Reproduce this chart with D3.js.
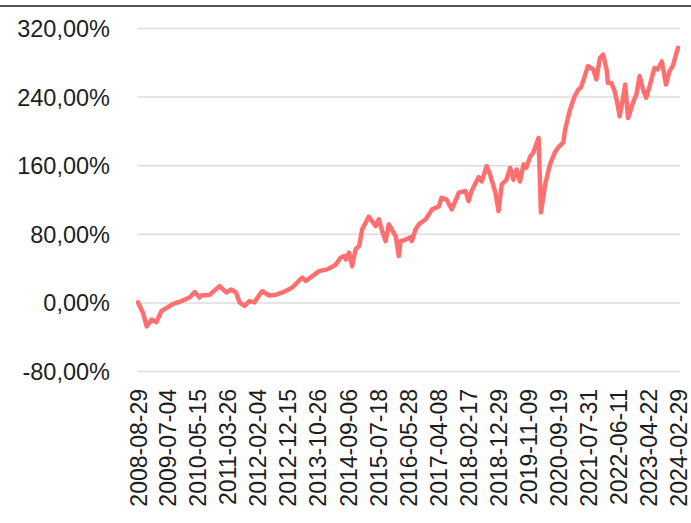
<!DOCTYPE html>
<html>
<head>
<meta charset="utf-8">
<script src="https://cdn.jsdelivr.net/npm/d3@7"></script>
<style>
  body { margin: 0; background: #fff; }
  svg text { font-family: "Helvetica Neue", Helvetica, "Liberation Sans", Arial, sans-serif; fill: #1d1d1f; }
</style>
</head>
<body>
<div id="wrapper"></div>
<script>
const dates = [
  '2008-08-29', '2008-10-20', '2008-11-28', '2009-01-19', '2009-03-09', '2009-05-03', '2009-08-28',
  '2009-11-28', '2010-02-24', '2010-04-15', '2010-06-05', '2010-06-23', '2010-09-20',
  '2011-01-01', '2011-03-13', '2011-05-03', '2011-06-23', '2011-07-30', '2011-09-20',
  '2011-11-10', '2012-01-01', '2012-02-24', '2012-03-24', '2012-06-05', '2012-08-17',
  '2012-10-22', '2013-02-03', '2013-05-17', '2013-06-23', '2013-11-10', '2014-02-03',
  '2014-05-03', '2014-06-23', '2014-07-30', '2014-08-17', '2014-09-20', '2014-10-22',
  '2014-11-28', '2015-01-05', '2015-02-03', '2015-03-13', '2015-04-15', '2015-05-17',
  '2015-06-27', '2015-07-30', '2015-09-02', '2015-10-08', '2015-11-10', '2015-12-13',
  '2016-01-23', '2016-02-24', '2016-03-13', '2016-05-03', '2016-06-27', '2016-07-08',
  '2016-08-17', '2016-09-20', '2016-12-02', '2017-02-07', '2017-04-19', '2017-05-17',
  '2017-07-08', '2017-09-02', '2017-11-14', '2018-01-23', '2018-02-24', '2018-03-28',
  '2018-06-09', '2018-07-12', '2018-09-02', '2018-10-08', '2018-12-02', '2019-01-05',
  '2019-02-07', '2019-03-28', '2019-05-07', '2019-06-09', '2019-07-12', '2019-08-17',
  '2019-09-24', '2019-10-22', '2019-12-02', '2020-01-05', '2020-02-28', '2020-03-24',
  '2020-05-07', '2020-06-27', '2020-08-17', '2020-09-24', '2020-11-14', '2020-12-02',
  '2021-01-23', '2021-03-13', '2021-04-19', '2021-05-17', '2021-06-27', '2021-07-30',
  '2021-09-24', '2021-10-26', '2021-12-02', '2022-01-05', '2022-02-10', '2022-02-24',
  '2022-04-01', '2022-05-07', '2022-06-09', '2022-06-27', '2022-07-30', '2022-08-24',
  '2022-09-24', '2022-11-14', '2022-12-20', '2023-01-23', '2023-02-28', '2023-04-01',
  '2023-05-07', '2023-06-27', '2023-07-30', '2023-09-13', '2023-10-26', '2023-12-02',
  '2024-01-05', '2024-02-29'
]
// cumulative return in percent
const returns = [
  0, -12, -28, -20, -23, -10, -2,
  1.5, 6, 12, 6, 8, 9,
  19, 11.6, 15, 11.6, 0, -4,
  1.5, 0, 9, 13, 8, 9,
  11.6, 17.5, 29, 25, 36.5, 38.5,
  44, 52, 54, 50, 58, 42,
  62, 66, 85, 93, 100, 95,
  89, 97, 83, 71.5, 91, 85,
  77, 54, 71.5, 73, 76, 71.5,
  85, 91, 97, 108.5, 112, 122,
  120, 108.5, 128, 130, 118, 130,
  146, 141, 159, 149, 128, 106.5,
  137.6, 143, 157, 143, 155, 141,
  161, 157, 170, 175, 192, 105,
  137.6, 161, 175, 181, 186.6, 201.7,
  225, 240.6, 248, 250.7, 264, 275.6,
  271.7, 260, 285, 289, 271.7, 256,
  256, 246, 229, 217, 237, 254,
  215, 233, 242.5, 264, 248, 238.6,
  252, 273.4, 271.7, 281, 254, 269.7,
  275.6, 297
]
const yTicks = [-80, 0, 80, 160, 240, 320]
const xTickLabels = [
  '2008-08-29', '2009-07-04', '2010-05-15', '2011-03-26', '2012-02-04', '2012-12-15',
  '2013-10-26', '2014-09-06', '2015-07-18', '2016-05-28', '2017-04-08', '2018-02-17',
  '2018-12-29', '2019-11-09', '2020-09-19', '2021-07-31', '2022-06-11', '2023-04-22',
  '2024-02-29'
]

const parseDate = d3.timeParse('%Y-%m-%d')
const dataset = dates.map((d, i) => ({ date: parseDate(d), value: returns[i] }))

const width = 691
const height = 523
const margin = { top: 28, right: 11, bottom: 152, left: 138 }
const boundedWidth = width - margin.left - margin.right
const boundedHeight = height - margin.top - margin.bottom

const xScale = d3
  .scaleTime()
  .domain([parseDate(xTickLabels[0]), parseDate(xTickLabels[xTickLabels.length - 1])])
  .range([0, boundedWidth - 2])
const yScale = d3.scaleLinear().domain([-80, 320]).range([boundedHeight, 0])

// comma as decimal separator, plain hyphen for negatives
const locale = d3.formatLocale({ decimal: ',', thousands: '.', grouping: [3], currency: ['', ''], minus: '-' })
const pctFormat = (v) => locale.format('.2f')(v) + '%'

const svg = d3
  .select('#wrapper')
  .append('svg')
  .attr('width', width)
  .attr('height', height)

// thin rule along the top
svg
  .append('line')
  .attr('x1', 0)
  .attr('x2', width)
  .attr('y1', 6)
  .attr('y2', 6)
  .attr('stroke', '#1d1d1f')
  .attr('stroke-width', 1.5)

const bounds = svg
  .append('g')
  .attr('transform', `translate(${margin.left}, ${margin.top})`)

// y axis with gridlines
const yAxis = bounds
  .append('g')
  .call(
    d3.axisLeft(yScale).tickValues(yTicks).tickSize(-boundedWidth).tickPadding(28).tickFormat(pctFormat)
  )
yAxis.select('.domain').remove()
yAxis.selectAll('.tick line').attr('stroke', '#dcdcdc').attr('stroke-width', 1.5)
yAxis.selectAll('.tick text').attr('font-size', 23.5).attr('dy', '0.36em')

// x axis, labels only, rotated
const xAxis = bounds
  .append('g')
  .attr('transform', `translate(0, ${boundedHeight})`)
  .call(
    d3.axisBottom(xScale).tickValues(xTickLabels.map(parseDate)).tickSize(0).tickFormat(d3.timeFormat('%Y-%m-%d'))
  )
xAxis.select('.domain').remove()
xAxis
  .selectAll('.tick text')
  .attr('font-size', 23)
  .attr('transform', 'rotate(-90)')
  .attr('x', -18)
  .attr('y', 0)
  .attr('dy', '0.36em')
  .style('text-anchor', 'end')

const lineGenerator = d3
  .line()
  .x((d) => xScale(d.date))
  .y((d) => yScale(d.value))

bounds
  .append('path')
  .datum(dataset)
  .attr('d', lineGenerator)
  .attr('fill', 'none')
  .attr('stroke', '#ff6f6f')
  .attr('stroke-width', 4.5)
  .attr('stroke-linejoin', 'round')
  .attr('stroke-linecap', 'round')
</script>
</body>
</html>
